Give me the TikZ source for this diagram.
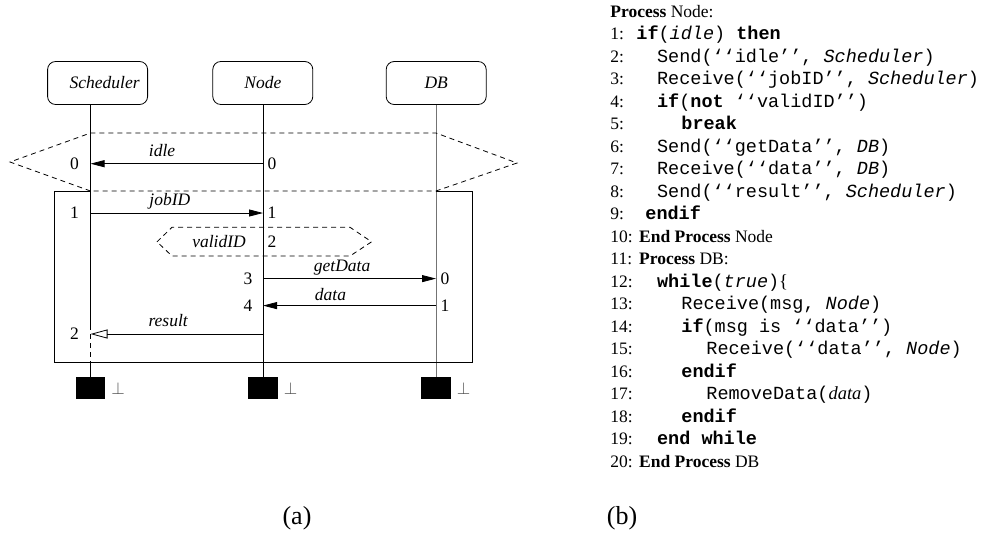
\documentclass[tikz,border=0pt]{standalone}
\usepackage{fontspec}
\setmainfont{Liberation Serif}
\setmonofont{Liberation Mono}
\usetikzlibrary{arrows.meta,positioning}
\newcommand{\diafont}{\fontsize{17.5}{21}\selectfont}
\newcommand{\lstfont}{\fontsize{18.5}{21}\selectfont\ttfamily}
\newcommand{\oq}{\textquoteleft\textquoteleft}
\newcommand{\cq}{\textquoteright\textquoteright}

\begin{document}
\begin{tikzpicture}[x=1pt, y=-1pt, line width=0.8pt,
  actor/.style={draw, rounded corners=8pt, minimum width=100pt, minimum height=43pt, font=\diafont\itshape},
  stopbox/.style={fill=black, minimum width=29.5pt, minimum height=22pt, inner sep=0pt},
  msg/.style={-{Triangle[length=14pt,width=7pt]}},
  reply/.style={-{Triangle[open,length=17pt,width=9pt]}},
  lbl/.style={font=\diafont\itshape, inner sep=0pt},
  num/.style={font=\diafont},
  frag/.style={dash pattern=on 5pt off 4pt},
  ln/.style={anchor=base west, inner sep=0pt, font=\diafont},
  code/.style={anchor=base west, inner sep=0pt, font=\lstfont}]
\useasboundingbox (0,0) rectangle (984,536);
% (a) sequence chart
\node[actor] (sched) at (97.6,83) {\hspace{14pt}Scheduler};
\node[actor] (nd) at (262.8,83) {Node};
\node[actor] (db) at (436.2,83) {DB};
\node[stopbox] (sstop) at (90.5,388) {};
\node[stopbox] (nstop) at (263,388) {};
\node[stopbox] (dstop) at (436,388) {};
\foreach \m/\y in {0/163.7,1/213,2/241.8,3/278.6,4/305.6,5/334} {
  \coordinate (sch\m) at (90.5,\y);
  \coordinate (nd\m) at (263,\y);
  \coordinate (db\m) at (436,\y);
}
\coordinate (schA) at (90.5,325);
\coordinate (schB) at (90.5,362.7);
\draw (sched.south -| sstop) -- (schA);
\draw[frag] (schA) -- (schB);
\draw (schB) -- (sstop.north);
\draw (nd.south -| nstop) -- (nstop.north);
\draw[black!55] (db.south -| dstop) -- (dstop.north);
% fragments
\draw[frag] (90.5,191) -- (10,162) -- (90.5,133) -- (436,133) -- (517,163) -- (436,191) -- cycle;
\draw (90.5,191) -- (54.6,191) -- (54.6,362.7) -- (472,362.7) -- (472,191) -- (436,191);
\draw[frag] (157,241.8) -- (172,227.3) -- (350,227.3) -- (371.6,241.8) -- (350,256) -- (172,256) -- cycle;
\node[lbl] (vid) at (219,241.8) {validID};
% messages
\draw[msg] (nd0) -- (sch0) node[lbl, pos=.585, anchor=base, yshift=7.5pt] (mIdle) {idle};
\draw[msg] (sch1) -- (nd1) node[lbl, pos=.46, anchor=base, yshift=7.5pt] (mJob) {jobID};
\draw[msg] (nd3) -- (db3) node[lbl, pos=.457, anchor=base, yshift=7.5pt] (mGet) {getData};
\draw[msg] (db4) -- (nd4) node[lbl, pos=.61, anchor=base, yshift=5pt] (mData) {data};
\draw[reply] (nd5) -- (sch5) node[lbl, pos=.55, anchor=base, yshift=7.5pt] (mRes) {result};
% step numbers
\node[num, left=8pt of sch0] (ts0) {0};
\node[num, right=1pt of nd0] (tn0) {0};
\node[num, left=8pt of sch1] (ts1) {1};
\node[num, right=1pt of nd1] (tn1) {1};
\node[num, right=1pt of nd2] (tn2) {2};
\node[num, left=7pt of nd3] (tn3) {3};
\node[num, right=1pt of db3] (td3) {0};
\node[num, left=7pt of nd4] (tn4) {4};
\node[num, right=1pt of db4] (td4) {1};
\node[num, left=8pt of sch5] (ts5) {2};
\node[num, right=2pt of sstop, text=black!70] (sbot) {$\perp$};
\node[num, right=2pt of nstop, text=black!70] (nbot) {$\perp$};
\node[num, right=2pt of dstop, text=black!70] (dbot) {$\perp$};
\node[font=\fontsize{26}{30}\selectfont] (capa) at (297,518) {(a)};
% (b) listing
\node[ln] (hdr) at (610,17) {\textbf{Process} Node:};
\foreach \k in {1,...,20}
  \node[ln] (no\k) at (610,{17+22.5*\k}) {\k:};
\node[code] (c1) at (636,39.5) {\textbf{if}(\textit{idle}) \textbf{then}};
\node[code] (c2) at (656.7,62) {Send(\oq idle\cq, \textit{Scheduler})};
\node[code] (c3) at (656.7,84.5) {Receive(\oq jobID\cq, \textit{Scheduler})};
\node[code] (c4) at (656.7,107) {\textbf{if}(\textbf{not} \oq validID\cq)};
\node[code] (c5) at (681,129.5) {\textbf{break}};
\node[code] (c6) at (656.7,152) {Send(\oq getData\cq, \textit{DB})};
\node[code] (c7) at (656.7,174.5) {Receive(\oq data\cq, \textit{DB})};
\node[code] (c8) at (656.7,197) {Send(\oq result\cq, \textit{Scheduler})};
\node[code] (c9) at (645,219.5) {\textbf{endif}};
\node[ln] (c10) at (638.7,242) {\textbf{End Process} Node};
\node[ln] (c11) at (638.7,264.5) {\textbf{Process} DB:};
\node[code] (c12) at (656.7,287) {\textbf{while}(\textit{true}){\rmfamily\{}};
\node[code] (c13) at (681,309.5) {Receive(msg, \textit{Node})};
\node[code] (c14) at (681,332) {\textbf{if}(msg is \oq data\cq)};
\node[code] (c15) at (706,354.5) {Receive(\oq data\cq, \textit{Node})};
\node[code] (c16) at (681,377) {\textbf{endif}};
\node[code] (c17) at (706,399.5) {RemoveData({\rmfamily\itshape data})};
\node[code] (c18) at (681,422) {\textbf{endif}};
\node[code] (c19) at (656.7,444.5) {\textbf{end while}};
\node[ln] (c20) at (638.7,467) {\textbf{End Process} DB};
\node[font=\fontsize{26}{30}\selectfont] (capb) at (622,518) {(b)};
\end{tikzpicture}
\end{document}
